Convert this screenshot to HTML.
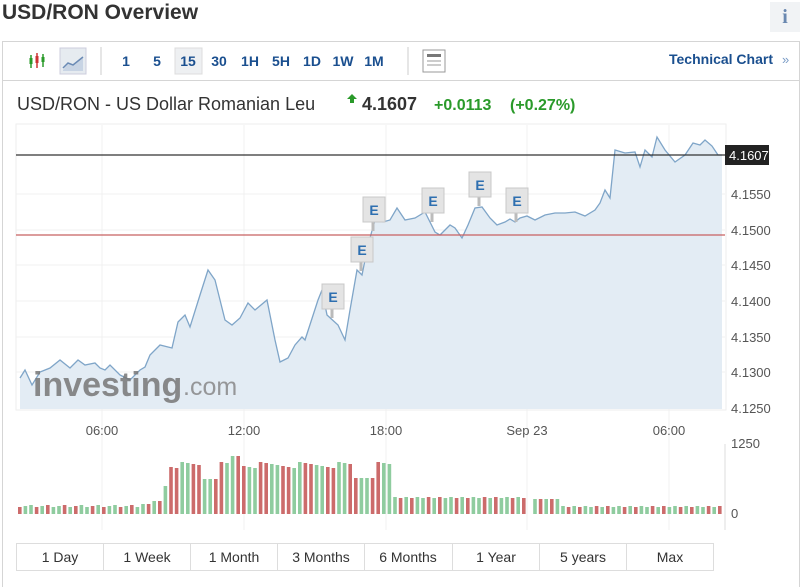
<!DOCTYPE html>
<html><head><meta charset="utf-8"><style>
body{margin:0;width:800px;height:584px;background:#fff;font-family:"Liberation Sans",Arial,sans-serif;overflow:hidden;position:relative}
.abs{position:absolute}
</style></head><body>
<div class="abs" style="left:2px;top:1px;font-size:21px;font-weight:bold;color:#333">USD/RON Overview</div>
<div class="abs" style="left:770px;top:2px;width:30px;height:30px;background:#f1f3f5;color:#6a88b0;font:bold 20px 'Liberation Serif',serif;text-align:center;line-height:30px">i</div>
<div class="abs" style="left:2px;top:41px;width:796px;height:545px;border:1px solid #d5d5d5;border-bottom:none"></div>
<div class="abs" style="left:3px;top:80px;width:796px;height:1px;background:#d5d5d5"></div>
<svg class="abs" style="left:0;top:0" width="800" height="584">
 <g stroke-width="1.5">
  <line x1="31" y1="55" x2="31" y2="68" stroke="#2a9a2a"/><rect x="29.5" y="58" width="3" height="6" fill="#2a9a2a"/>
  <line x1="37" y1="53" x2="37" y2="68" stroke="#c33"/><rect x="35.5" y="56" width="3" height="7" fill="#c33"/>
  <line x1="43" y1="54" x2="43" y2="67" stroke="#2a9a2a"/><rect x="41.5" y="57" width="3" height="5" fill="#2a9a2a"/>
 </g>
 <rect x="60" y="48" width="26" height="26" fill="#e6ebf0" stroke="#ccd" />
 <path d="M63 70 L68 64 L73 66 L83 58 L83 71 L63 71Z" fill="#c8d4e4"/><path d="M63 68 L68 63 L73 65 L83 57" stroke="#6a8ab5" fill="none" stroke-width="1.5"/>
 <line x1="101" y1="47" x2="101" y2="75" stroke="#ccc"/>
 <rect x="175" y="48" width="27" height="26" fill="#eef0f2" stroke="#ddd"/>
 <line x1="408" y1="47" x2="408" y2="75" stroke="#ccc"/>
 <rect x="423" y="50" width="22" height="22" fill="#fff" stroke="#999"/><rect x="427" y="54" width="14" height="3" fill="#777"/><line x1="427" y1="61" x2="441" y2="61" stroke="#999"/><line x1="427" y1="65" x2="441" y2="65" stroke="#999"/>
 <g font-size="14" font-weight="bold" fill="#1a4f8f" text-anchor="middle">
  <text x="126" y="66">1</text><text x="157" y="66">5</text><text x="188" y="66">15</text><text x="219" y="66">30</text><text x="250" y="66">1H</text><text x="281" y="66">5H</text><text x="312" y="66">1D</text><text x="343" y="66">1W</text><text x="374" y="66">1M</text>
 </g>
 <text x="669" y="64" font-size="14" font-weight="bold" fill="#1a4f8f">Technical Chart</text>
 <text x="782" y="64" font-size="13" fill="#7a9cc6">»</text>
 <text x="17" y="110" font-size="18" fill="#333">USD/RON - US Dollar Romanian Leu</text>
 <path d="M347 99 L352 94 L357 99 L354 99 L354 103 L350 103 L350 99Z" fill="#2a9a2a"/>
 <text x="362" y="110" font-size="18" font-weight="bold" fill="#333">4.1607</text>
 <text x="434" y="110" font-size="16" font-weight="bold" fill="#2a9a2a">+0.0113</text>
 <text x="510" y="110" font-size="16" font-weight="bold" fill="#2a9a2a">(+0.27%)</text>
 <rect x="16" y="124" width="710" height="286" fill="#fff" stroke="#eee"/>
 <g stroke="#f0f0f0">
  <line x1="102" y1="125" x2="102" y2="530"/><line x1="244" y1="125" x2="244" y2="530"/><line x1="386" y1="125" x2="386" y2="530"/><line x1="527" y1="125" x2="527" y2="530"/><line x1="669" y1="125" x2="669" y2="530"/>
  <line x1="16" y1="194" x2="725" y2="194"/><line x1="16" y1="230" x2="725" y2="230"/><line x1="16" y1="265" x2="725" y2="265"/><line x1="16" y1="301" x2="725" y2="301"/><line x1="16" y1="337" x2="725" y2="337"/><line x1="16" y1="372" x2="725" y2="372"/>
 </g>
 <path id="fill" fill="#e3ecf4" d=""/>
 <path id="ln" fill="none" stroke="#7fa5c8" stroke-width="1.3" d=""/>
 <line x1="16" y1="155" x2="725" y2="155" stroke="#333" stroke-width="1.3"/>
 <line x1="16" y1="235" x2="725" y2="235" stroke="#c86060" stroke-width="1.3"/>
 <text x="33" y="396" font-size="34" font-weight="bold" fill="#777" opacity="0.85">investing</text>
 <text x="183" y="395" font-size="25" fill="#888" opacity="0.85">.com</text>
 <g id="emk"></g>
 <rect x="725" y="145" width="44" height="20" fill="#222"/>
 <text x="729" y="160" font-size="13" fill="#fff">4.1607</text>
 <g font-size="13" fill="#555">
  <text x="731" y="199">4.1550</text><text x="731" y="235">4.1500</text><text x="731" y="270">4.1450</text><text x="731" y="306">4.1400</text><text x="731" y="342">4.1350</text><text x="731" y="377">4.1300</text><text x="731" y="413">4.1250</text>
  <text x="102" y="435" text-anchor="middle">06:00</text><text x="244" y="435" text-anchor="middle">12:00</text><text x="386" y="435" text-anchor="middle">18:00</text><text x="527" y="435" text-anchor="middle">Sep 23</text><text x="669" y="435" text-anchor="middle">06:00</text>
  <text x="731" y="448">1250</text><text x="731" y="518">0</text>
 </g>
 <line x1="725" y1="444" x2="725" y2="530" stroke="#ddd"/>
 <g id="vol"></g>
 <rect x="16.5" y="543.5" width="697" height="27" fill="#fff" stroke="#ddd"/>
 <g stroke="#ddd"><line x1="103.5" y1="544" x2="103.5" y2="570"/><line x1="190.5" y1="544" x2="190.5" y2="570"/><line x1="277.5" y1="544" x2="277.5" y2="570"/><line x1="364.5" y1="544" x2="364.5" y2="570"/><line x1="452.5" y1="544" x2="452.5" y2="570"/><line x1="539.5" y1="544" x2="539.5" y2="570"/><line x1="626.5" y1="544" x2="626.5" y2="570"/></g>
 <g font-size="14" fill="#333" text-anchor="middle">
  <text x="60" y="562">1 Day</text><text x="147" y="562">1 Week</text><text x="234" y="562">1 Month</text><text x="321" y="562">3 Months</text><text x="408" y="562">6 Months</text><text x="496" y="562">1 Year</text><text x="583" y="562">5 years</text><text x="670" y="562">Max</text>
 </g>
</svg>
<script>
var p=[[20,378],[25,370],[32,385],[40,372],[50,368],[60,360],[70,368],[78,360],[85,365],[95,363],[100,368],[105,370],[110,365],[120,375],[130,380],[140,370],[145,367],[150,355],[155,350],[160,345],[172,348],[178,322],[185,315],[190,327],[200,295],[208,270],[215,280],[225,320],[232,325],[240,318],[248,303],[255,310],[267,300],[275,340],[280,362],[288,358],[295,345],[302,337],[305,340],[318,300],[322,290],[327,315],[338,325],[345,340],[350,310],[357,270],[362,275],[368,245],[375,220],[383,222],[390,220],[397,208],[405,220],[415,218],[425,212],[435,232],[440,235],[450,225],[455,228],[462,238],[468,225],[475,208],[482,207],[490,218],[497,225],[505,222],[510,219],[515,222],[520,218],[527,216],[535,220],[545,215],[555,213],[565,213],[575,212],[585,216],[595,210],[600,203],[605,190],[610,198],[615,150],[625,153],[635,152],[640,167],[645,150],[652,157],[657,137],[665,150],[675,162],[685,155],[693,143],[700,145],[705,140],[712,146],[718,155],[722,155]];
var d="M"+p.map(function(a){return a.join(" ")}).join(" L");
document.getElementById("ln").setAttribute("d",d);
document.getElementById("fill").setAttribute("d",d+" L722 409 L20 409Z");
var E=[[332,296],[361,249],[373,209],[432,200],[479,184],[516,200]],s="";
E.forEach(function(e){s+='<line x1="'+e[0]+'" y1="'+e[1]+'" x2="'+e[0]+'" y2="'+(e[1]+22)+'" stroke="#bbb" stroke-width="3"/><rect x="'+(e[0]-10)+'" y="'+(e[1]-12)+'" width="22" height="25" fill="#e4e4e4" stroke="#c8c8c8"/><text x="'+(e[0]+1)+'" y="'+(e[1]+6)+'" font-size="14" font-weight="bold" fill="#2e6fb0" text-anchor="middle">E</text>';});
document.getElementById("emk").innerHTML=s;
var v="",G="#8fcc9f",R="#cc6b6b";
for(var i=0;i<126;i++){var x=18+i*5.6,h,c=(i*7%5<2)?R:G;
 if(x<140)h=7+(i%3);else if(x<150)h=10;else if(x<160)h=13;else if(x<168)h=28;else if(x<390){h=46+((i*13)%7);if(x>200&&x<215)h=35;if(x>230&&x<240)h=58;if(x>350&&x<372)h=36;c=(i*11%4<2)?R:G;}
 else if(x<523)h=16+(i%2);else if(x<530)continue;else if(x<560)h=15;else h=7+(i%2);
 v+='<rect x="'+x.toFixed(1)+'" y="'+(514-h)+'" width="3.6" height="'+h+'" fill="'+c+'"/>';}
document.getElementById("vol").innerHTML=v;
</script>
</body></html>
